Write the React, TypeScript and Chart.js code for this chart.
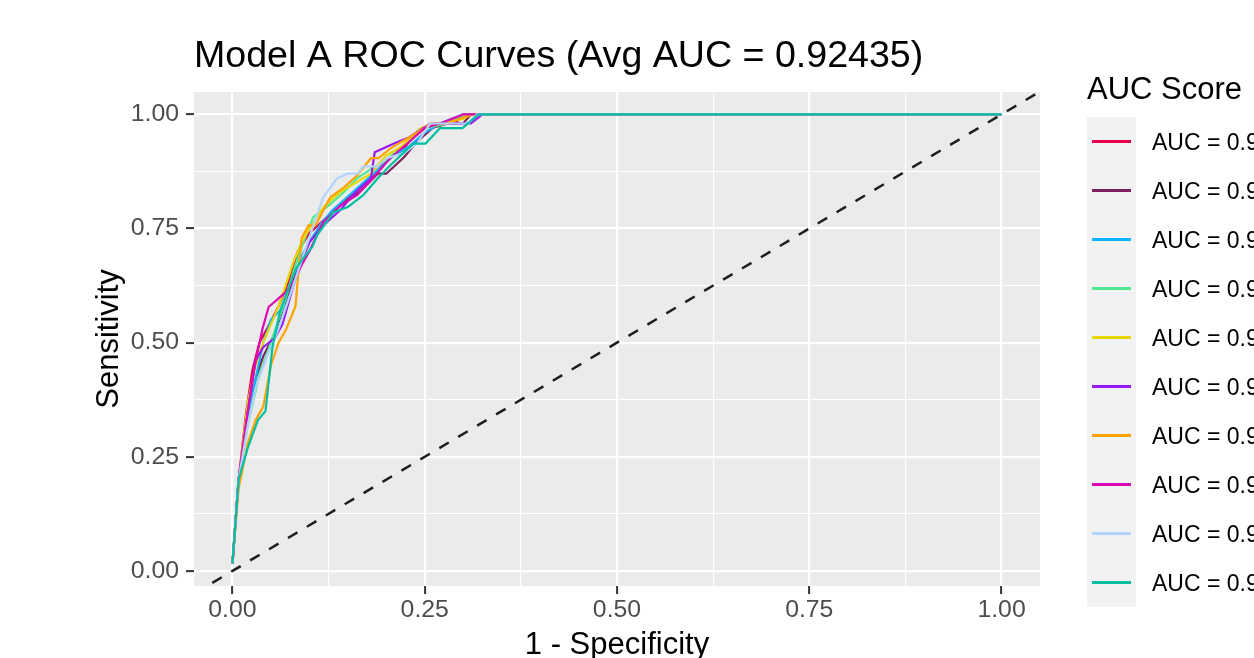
import React, { useEffect, useRef } from "react";
import { Chart, registerables } from "chart.js";

Chart.register(...registerables);

const FONT = '"Liberation Sans", Arial, Helvetica, sans-serif';

const TITLE = "Model A ROC Curves (Avg AUC = 0.92435)";
const X_LABEL = "1 - Specificity";
const Y_LABEL = "Sensitivity";
const LEGEND_TITLE = "AUC Score";

const MAJOR_TICKS = [0, 0.25, 0.5, 0.75, 1];
const ALL_TICKS = [0, 0.125, 0.25, 0.375, 0.5, 0.625, 0.75, 0.875, 1];

const AUC_VALUES = [0.92514, 0.91877, 0.92763, 0.92408, 0.92941, 0.92116, 0.92305, 0.93022, 0.92689, 0.91715];
const SERIES_COLORS = ["#e60049", "#7e1f5e", "#0bb4ff", "#50e991", "#e6d800", "#9b19f5", "#ffa300", "#dc0ab4", "#b3d4ff", "#00bfa0"];

// [false positive rate, true positive rate]
const curve01: [number, number][] = [[0, 0.016], [0.008, 0.2], [0.018, 0.35], [0.026, 0.44], [0.035, 0.5], [0.048, 0.54], [0.06, 0.58], [0.072, 0.63], [0.085, 0.7], [0.1, 0.74], [0.12, 0.77], [0.14, 0.8], [0.16, 0.83], [0.18, 0.86], [0.2, 0.9], [0.22, 0.92], [0.24, 0.96], [0.26, 0.98], [0.29, 0.98], [0.3, 1], [1, 1]];
const curve02: [number, number][] = [[0, 0.016], [0.008, 0.2], [0.02, 0.33], [0.03, 0.42], [0.04, 0.47], [0.055, 0.52], [0.065, 0.57], [0.08, 0.64], [0.1, 0.72], [0.12, 0.77], [0.14, 0.8], [0.165, 0.83], [0.189, 0.87], [0.2, 0.87], [0.223, 0.906], [0.24, 0.94], [0.26, 0.97], [0.28, 0.98], [0.3, 0.98], [0.31, 1], [1, 1]];
const curve03: [number, number][] = [[0, 0.016], [0.008, 0.2], [0.02, 0.33], [0.03, 0.42], [0.04, 0.5], [0.05, 0.55], [0.06, 0.567], [0.07, 0.58], [0.08, 0.63], [0.09, 0.69], [0.1, 0.72], [0.115, 0.76], [0.13, 0.79], [0.15, 0.82], [0.17, 0.85], [0.19, 0.88], [0.21, 0.91], [0.23, 0.93], [0.25, 0.96], [0.27, 0.98], [0.3, 1], [1, 1]];
const curve04: [number, number][] = [[0, 0.016], [0.008, 0.2], [0.02, 0.32], [0.035, 0.43], [0.05, 0.5], [0.06, 0.55], [0.07, 0.6], [0.08, 0.66], [0.09, 0.71], [0.105, 0.775], [0.125, 0.8], [0.145, 0.83], [0.162, 0.86], [0.18, 0.88], [0.2, 0.9], [0.22, 0.93], [0.25, 0.97], [0.28, 0.98], [0.303, 1], [1, 1]];
const curve05: [number, number][] = [[0, 0.016], [0.008, 0.2], [0.02, 0.37], [0.03, 0.45], [0.04, 0.5], [0.05, 0.54], [0.06, 0.58], [0.07, 0.63], [0.08, 0.68], [0.09, 0.72], [0.1, 0.75], [0.12, 0.8], [0.14, 0.83], [0.16, 0.85], [0.18, 0.87], [0.2, 0.91], [0.22, 0.93], [0.245, 0.97], [0.27, 0.98], [0.3, 0.99], [0.31, 1], [1, 1]];
const curve06: [number, number][] = [[0, 0.016], [0.008, 0.2], [0.02, 0.35], [0.03, 0.46], [0.04, 0.49], [0.055, 0.51], [0.065, 0.54], [0.075, 0.6], [0.085, 0.66], [0.1, 0.72], [0.12, 0.76], [0.14, 0.79], [0.16, 0.83], [0.18, 0.86], [0.185, 0.917], [0.21, 0.936], [0.23, 0.95], [0.257, 0.98], [0.31, 0.98], [0.325, 1], [1, 1]];
const curve07: [number, number][] = [[0, 0.016], [0.008, 0.18], [0.02, 0.28], [0.03, 0.33], [0.04, 0.36], [0.05, 0.45], [0.06, 0.5], [0.07, 0.53], [0.082, 0.58], [0.086, 0.66], [0.09, 0.729], [0.099, 0.757], [0.108, 0.757], [0.127, 0.818], [0.145, 0.84], [0.162, 0.866], [0.18, 0.904], [0.19, 0.904], [0.205, 0.925], [0.23, 0.95], [0.249, 0.969], [0.257, 0.98], [0.28, 0.98], [0.31, 1], [1, 1]];
const curve08: [number, number][] = [[0, 0.016], [0.008, 0.2], [0.02, 0.35], [0.028, 0.44], [0.034, 0.49], [0.039, 0.53], [0.047, 0.578], [0.069, 0.61], [0.079, 0.632], [0.09, 0.67], [0.1, 0.7], [0.118, 0.764], [0.14, 0.8], [0.162, 0.823], [0.18, 0.855], [0.205, 0.904], [0.23, 0.94], [0.25, 0.97], [0.27, 0.98], [0.3, 1], [1, 1]];
const curve09: [number, number][] = [[0, 0.016], [0.008, 0.2], [0.02, 0.32], [0.03, 0.4], [0.045, 0.47], [0.06, 0.53], [0.07, 0.58], [0.08, 0.63], [0.09, 0.68], [0.1, 0.73], [0.11, 0.78], [0.118, 0.818], [0.136, 0.86], [0.15, 0.87], [0.163, 0.87], [0.17, 0.886], [0.189, 0.886], [0.2, 0.904], [0.223, 0.915], [0.24, 0.936], [0.257, 0.98], [0.307, 0.98], [0.318, 1], [1, 1]];
const curve10: [number, number][] = [[0, 0.016], [0.008, 0.2], [0.02, 0.27], [0.033, 0.33], [0.043, 0.35], [0.052, 0.49], [0.062, 0.57], [0.082, 0.66], [0.088, 0.676], [0.104, 0.71], [0.11, 0.735], [0.131, 0.785], [0.15, 0.797], [0.17, 0.823], [0.189, 0.86], [0.205, 0.888], [0.235, 0.936], [0.251, 0.936], [0.27, 0.97], [0.299, 0.97], [0.32, 1], [1, 1]];

const CURVES = [curve01, curve02, curve03, curve04, curve05, curve06, curve07, curve08, curve09, curve10];
const DIAGONAL: [number, number][] = [[-0.1, -0.1], [1.1, 1.1]];

const isMajor = (v: number) => MAJOR_TICKS.some((m) => Math.abs(m - v) < 1e-9);

const decorPlugin = {
  id: "decor",
  beforeDraw(chart: any) {
    const { ctx, chartArea: a } = chart;
    ctx.save();
    ctx.fillStyle = "#EBEBEB";
    ctx.fillRect(a.left, a.top, a.right - a.left, a.bottom - a.top);
    ctx.restore();
  },
  afterDraw(chart: any) {
    const { ctx, chartArea: a } = chart;
    ctx.save();
    ctx.textAlign = "left";
    ctx.textBaseline = "alphabetic";
    ctx.fillStyle = "#000000";
    ctx.font = `37.6px ${FONT}`;
    ctx.fillText(TITLE, a.left, 67);

    // legend
    const lx = 1087;
    ctx.font = `31px ${FONT}`;
    ctx.fillText(LEGEND_TITLE, lx, 99);
    const keyTop = 117;
    const keyH = 49;
    const keyW = 49;
    ctx.fillStyle = "#F2F2F2";
    ctx.fillRect(lx, keyTop, keyW, keyH * AUC_VALUES.length);
    ctx.font = `23px ${FONT}`;
    AUC_VALUES.forEach((v, i) => {
      const cy = keyTop + keyH * i + keyH / 2;
      ctx.strokeStyle = SERIES_COLORS[i];
      ctx.lineWidth = 2.8;
      ctx.beginPath();
      ctx.moveTo(lx + 5, cy);
      ctx.lineTo(lx + keyW - 5, cy);
      ctx.stroke();
      ctx.fillStyle = "#000000";
      ctx.fillText(`AUC = ${v.toFixed(5)}`, 1152, cy + 8);
    });
    ctx.restore();
  },
};

function gridOpts() {
  return {
    color: "#FFFFFF",
    lineWidth: (c: any) => (c.tick && isMajor(c.tick.value) ? 2.2 : 1.1),
    drawTicks: true,
    tickLength: 8,
    tickWidth: 2,
    tickColor: (c: any) => (c.tick && isMajor(c.tick.value) ? "#333333" : "rgba(0,0,0,0)"),
  };
}

export default function App() {
  const ref = useRef<HTMLCanvasElement | null>(null);

  useEffect(() => {
    if (!ref.current) return;
    Chart.defaults.font.family = FONT;
    const n = CURVES.length;
    const datasets: any[] = CURVES.map((c, i) => ({
      label: `AUC = ${AUC_VALUES[i].toFixed(5)}`,
      data: c.map(([x, y]) => ({ x, y })),
      borderColor: SERIES_COLORS[i],
      backgroundColor: SERIES_COLORS[i],
      borderWidth: 2.2,
      pointRadius: 0,
      tension: 0,
      fill: false,
      order: n - i,
    }));
    datasets.push({
      label: "diagonal",
      data: DIAGONAL.map(([x, y]) => ({ x, y })),
      borderColor: "#1E1E1E",
      borderWidth: 2.5,
      borderDash: [11, 11],
      pointRadius: 0,
      fill: false,
      clip: 0,
      order: 0,
    });

    const chart = new Chart(ref.current, {
      type: "line",
      data: { datasets },
      plugins: [decorPlugin],
      options: {
        animation: false,
        responsive: false,
        maintainAspectRatio: false,
        layout: { padding: { left: 0, top: 92, right: 214, bottom: 0 } },
        plugins: { legend: { display: false }, title: { display: false }, tooltip: { enabled: false } },
        scales: {
          x: {
            type: "linear",
            min: -0.05,
            max: 1.05,
            afterBuildTicks: (s: any) => {
              s.ticks = ALL_TICKS.map((v) => ({ value: v }));
            },
            afterFit: (s: any) => {
              s.height = 72;
            },
            border: { display: false },
            grid: gridOpts(),
            ticks: {
              autoSkip: false,
              maxRotation: 0,
              padding: 1,
              color: "#4D4D4D",
              font: { size: 24.8, lineHeight: 1.2 },
              callback: (v: any) => (isMajor(Number(v)) ? Number(v).toFixed(2) : ""),
            },
            title: {
              display: true,
              text: X_LABEL,
              color: "#000000",
              font: { size: 31, lineHeight: 0.8 },
              padding: { top: 0, bottom: 0 },
            },
          },
          y: {
            type: "linear",
            min: -0.033,
            max: 1.049,
            afterBuildTicks: (s: any) => {
              s.ticks = ALL_TICKS.map((v) => ({ value: v }));
            },
            afterFit: (s: any) => {
              s.width = 194;
            },
            border: { display: false },
            grid: gridOpts(),
            ticks: {
              autoSkip: false,
              padding: 7,
              color: "#4D4D4D",
              font: { size: 24.8, lineHeight: 1.2 },
              callback: (v: any) => (isMajor(Number(v)) ? Number(v).toFixed(2) : ""),
            },
            title: {
              display: true,
              text: Y_LABEL,
              color: "#000000",
              font: { size: 31, lineHeight: 1 },
              padding: { top: 94, bottom: 0 },
            },
          },
        },
      },
    } as any);
    return () => chart.destroy();
  }, []);

  return (
    <div style={{ position: "absolute", left: 0, top: 0, width: 1254, height: 658, overflow: "hidden", background: "#FFFFFF" }}>
      <canvas ref={ref} width={1254} height={658} style={{ display: "block", width: 1254, height: 658 }} />
    </div>
  );
}
